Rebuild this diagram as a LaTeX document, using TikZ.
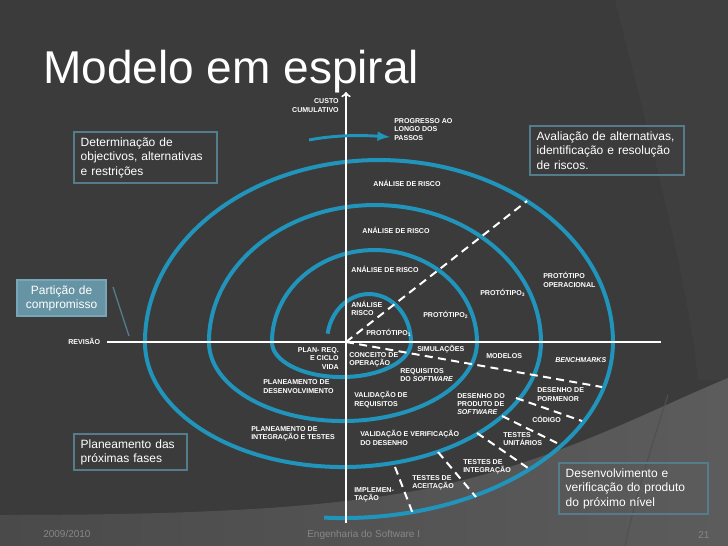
\documentclass[tikz,border=0pt]{standalone}
\usepackage{fontspec}
\setmainfont{Liberation Sans}
\usepackage{tikz}
\usetikzlibrary{arrows}
\definecolor{slide}{RGB}{59,59,59}
\definecolor{slideedge}{RGB}{63,63,63}
\definecolor{footl}{RGB}{74,74,74}
\definecolor{footr}{RGB}{92,92,92}
\definecolor{footline}{RGB}{80,80,80}
\definecolor{ring}{RGB}{33,148,188}
\definecolor{boxline}{RGB}{84,124,138}
\definecolor{boxfill}{RGB}{102,148,164}
\definecolor{boxedge}{RGB}{120,166,182}
\definecolor{footgray}{RGB}{135,135,135}

\begin{document}
\begin{tikzpicture}[x=0.75pt,y=-0.75pt,
  lbl/.style={text=white, inner sep=0pt, align=left,
    font=\fontsize{5.3}{6.3}\selectfont\bfseries},
  note/.style={draw=boxline, line width=1.5pt, text=white, anchor=north west,
    align=left, inner xsep=5pt, inner ysep=4pt, font=\fontsize{9}{10.9}\selectfont},
  spire/.style={draw=ring, line width=3pt},
  axe/.style={draw=white, line width=1.5pt},
  sep/.style={draw=white, line width=1.5pt, dash pattern=on 6pt off 4pt},
  foot/.style={anchor=west, text=footgray, inner sep=0pt,
    font=\fontsize{7.5}{9}\selectfont}]

\useasboundingbox (0,0) rectangle (728,546);

% background
\fill[slide] (0,0) rectangle (728,546);
\fill[slideedge] (615,0) .. controls (650,140) and (688,280) .. (698,380)
  -- (728,380) -- (728,0) -- cycle;
\shade[left color=footl, right color=footr] (0,515)
  .. controls (200,515) and (330,508) .. (430,488)
  .. controls (560,460) and (650,410) .. (728,378)
  -- (728,546) -- (0,546) -- cycle;
\draw[footline, line width=0.8pt] (668,395) .. controls (650,450) and (635,500) .. (625,546);

\node[anchor=base west, text=white, inner sep=0pt,
  font=\fontsize{34.5}{40}\selectfont] (title) at (43,83) {Modelo em espiral};

% spiral
\draw[spire] (327.6,333.7)
  arc[start angle=170, end angle=0, x radius=31.5pt, y radius=36pt]
  arc[start angle=360, end angle=180, x radius=52.125pt, y radius=26.25pt]
  arc[start angle=180, end angle=0, x radius=76.875pt, y radius=69pt]
  arc[start angle=360, end angle=180, x radius=100.5pt, y radius=59.25pt]
  arc[start angle=180, end angle=0, x radius=124.5pt, y radius=102.75pt]
  arc[start angle=360, end angle=180, x radius=148.5pt, y radius=93.75pt]
  arc[start angle=180, end angle=0, x radius=175.5pt, y radius=136.5pt]
  arc[start angle=360, end angle=266, x radius=202.5pt, y radius=132pt];

% dashed separators
\coordinate (o) at (346,342);
\draw[sep] (o) -- (527,201);
\draw[sep] (o) -- (602,387);
\draw[sep] (516,398) -- (582,421);
\draw[sep] (502,416) -- (557,443);
\draw[sep] (477,433) -- (528,468);
\draw[sep] (438,452) -- (476,497);
\draw[sep] (395,467) -- (413,514);

% axes
\draw[axe] (107,342) -- (661,342);
\draw[axe, ->] (346,523) -- (346,92);

% progress arrow
\coordinate (g1) at (309,140);
\coordinate (g2) at (390,137);
\draw[ring, line width=2.2pt, -latex] (g1) .. controls (335,135) and (360,135) .. (g2);

\node[lbl, anchor=east, align=right] (cc) at (339,105.5) {CUSTO\\CUMULATIVO};
\node[lbl, anchor=west] (pp) at (394,129.3) {PROGRESSO AO\\LONGO DOS\\PASSOS};

\node[lbl] (ar1) at (407,183) {ANÁLISE DE RISCO};
\node[lbl] (ar2) at (396,230) {ANÁLISE DE RISCO};
\node[lbl] (ar3) at (385,269) {ANÁLISE DE RISCO};
\node[lbl, anchor=west] (ar4) at (351,308.5) {ANÁLISE\\RISCO};

\node[lbl, anchor=west] (pt1) at (366,333) {PROTÓTIPO\textsubscript{1}};
\node[lbl, anchor=west] (pt2) at (423,315) {PROTÓTIPO\textsubscript{2}};
\node[lbl, anchor=west] (pt3) at (480,293) {PROTÓTIPO\textsubscript{3}};
\node[lbl, anchor=west] (pt4) at (543,280) {PROTÓTIPO\\OPERACIONAL};

\node[lbl, anchor=west] (rv) at (68,341) {REVISÃO};
\node[lbl, anchor=east, align=right] (pl1) at (339,358.5) {PLAN- REQ.\\E CICLO\\VIDA};
\node[lbl, anchor=west] (co) at (349,359.5) {CONCEITO DE\\OPERAÇÃO};
\node[lbl, anchor=west] (si) at (417,349) {SIMULAÇÕES};
\node[lbl, anchor=west] (mo) at (486,356) {MODELOS};
\node[lbl, anchor=west] (be) at (555,360) {\itshape BENCHMARKS};
\node[lbl, anchor=west] (rq) at (400,375) {REQUISITOS\\DO \textit{SOFTWARE}};
\node[lbl, anchor=west] (pl2) at (263,386.5) {PLANEAMENTO DE\\DESENVOLVIMENTO};
\node[lbl, anchor=west] (vr) at (354,399.5) {VALIDAÇÃO DE\\REQUISITOS};
\node[lbl, anchor=west] (dp) at (457,404) {DESENHO DO\\PRODUTO DE\\\textit{SOFTWARE}};
\node[lbl, anchor=west] (dm) at (537,394.5) {DESENHO DE\\PORMENOR};
\node[lbl, anchor=west] (cd) at (532,419) {CÓDIGO};
\node[lbl, anchor=west] (tu) at (503,439) {TESTES\\UNITÁRIOS};
\node[lbl, anchor=west] (pl3) at (251,434) {PLANEAMENTO DE\\INTEGRAÇÃO E TESTES};
\node[lbl, anchor=west] (vv) at (360,438) {VALIDAÇÃO E VERIFICAÇÃO\\DO DESENHO};
\node[lbl, anchor=west] (ti) at (463,466.5) {TESTES DE\\INTEGRAÇÃO};
\node[lbl, anchor=west] (ta) at (412,482.5) {TESTES DE\\ACEITAÇÃO};
\node[lbl, anchor=west] (im) at (354,495) {IMPLEMEN-\\TAÇÃO};

% boxes
\node[note, text width=97.5pt] (b1) at (73,131)
  {Determinação de\\objectivos, alternativas\\e restrições};
\node[note, text width=105.75pt] (b2) at (529,125)
  {Avaliação de alternativas,\\identificação e resolução\\de riscos.};
\node[note, text width=75pt] (b3) at (73,433) {Planeamento das\\próximas fases};
\node[note, text width=102pt] (b4) at (558,462)
  {Desenvolvimento e\\verificação do produto\\do próximo nível};
\node[note, draw=boxedge, fill=boxfill, align=center, text width=57pt] (b5) at (16,279)
  {Partição de\\compromisso};
\coordinate (k1) at (113,287);
\coordinate (k2) at (129,336);
\draw[boxline, line width=1pt] (k1) -- (k2);

% footer
\node[foot] (yr) at (43,534) {2009/2010};
\node[foot] (eng) at (307,535) {Engenharia do Software I};
\node[foot] (nr) at (698,535) {21};

\end{tikzpicture}
\end{document}
